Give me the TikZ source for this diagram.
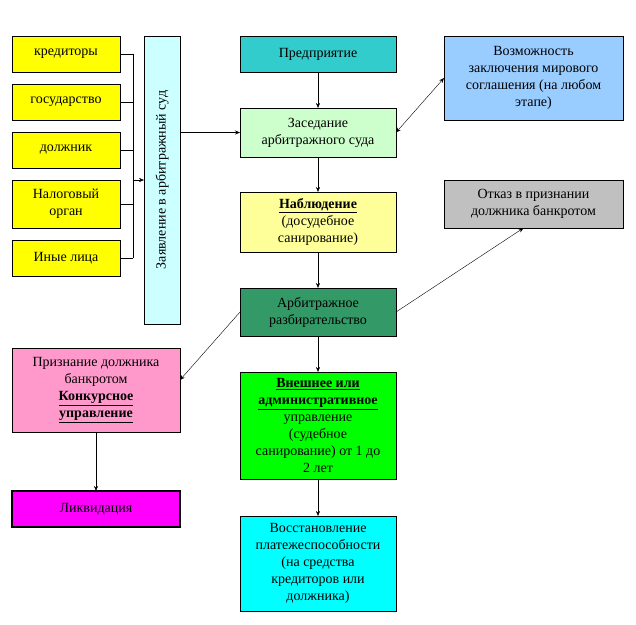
\documentclass[tikz,border=0pt]{standalone}
\usepackage{fontspec}
\setmainfont{Liberation Serif}
\usepackage{tikz}
\usetikzlibrary{arrows.meta}
\usepackage{xcolor}

\definecolor{predcol}{HTML}{33CCCC}
\definecolor{zasedcol}{HTML}{CCFFCC}
\definecolor{nablcol}{HTML}{FFFF99}
\definecolor{arbcol}{HTML}{339966}
\definecolor{vneshcol}{HTML}{00FF00}
\definecolor{vosstcol}{HTML}{00FFFF}
\definecolor{vozmcol}{HTML}{99CCFF}
\definecolor{otkazcol}{HTML}{C0C0C0}
\definecolor{prizcol}{HTML}{FF99CC}
\definecolor{likvcol}{HTML}{FF00FF}
\definecolor{zayavcol}{HTML}{CCFFFF}
\definecolor{sidecol}{HTML}{FFFF00}

\newcommand{\bu}[1]{\underline{\textbf{#1}}}

\begin{document}
\begin{tikzpicture}[x=1pt,y=-1pt,
  box/.style={draw=black,thin,inner sep=0pt,outer sep=0pt,align=center,
    font=\fontsize{14}{17}\selectfont},
  side/.style={box,fill=sidecol,minimum width=108pt},
  conn/.style={thin,-{Stealth[length=5pt,width=4pt]}},
  both/.style={thin,{Stealth[length=5pt,width=4pt]}-{Stealth[length=5pt,width=4pt]}}]

\useasboundingbox (0,0) rectangle (636,624);

\node[side,minimum height=36pt] (kred) at (66,54) {кредиторы};
\node[side,minimum height=36pt] (gos) at (66,102) {государство};
\node[side,minimum height=36pt] (dolzh) at (66,150) {должник};
\node[side,minimum height=48pt] (nalog) at (66,204) {Налоговый\\орган};
\node[side,minimum height=36pt] (inye) at (66,258) {Иные лица};

\node[box,fill=zayavcol,minimum width=36pt,minimum height=288pt] (zayav) at (162,180) {};
\node[font=\fontsize{14}{17}\selectfont,rotate=90] at (zayav.center) {Заявление в арбитражный суд};

\node[box,fill=predcol,minimum width=156pt,minimum height=36pt] (pred) at (318,54) {Предприятие};
\node[box,fill=zasedcol,minimum width=156pt,minimum height=49pt] (zased) at (318,132.5) {Заседание\\арбитражного суда};
\node[box,fill=nablcol,minimum width=156pt,minimum height=60pt] (nabl) at (318,222) {\bu{Наблюдение}\\(досудебное\\санирование)};
\node[box,fill=arbcol,minimum width=156pt,minimum height=48pt] (arb) at (318,312) {Арбитражное\\разбирательство};
\node[box,fill=vneshcol,minimum width=156pt,minimum height=107pt] (vnesh) at (318,425.5) {\bu{Внешнее или}\\\bu{административное}\\управление\\(судебное\\санирование) от 1 до\\2 лет};
\node[box,fill=vosstcol,minimum width=156pt,minimum height=95pt] (vosst) at (318,563.5) {Восстановление\\платежеспособности\\(на средства\\кредиторов или\\должника)};

\node[box,fill=vozmcol,minimum width=179pt,minimum height=84pt] (vozm) at (533.5,78) {Возможность\\заключения мирового\\соглашения (на любом\\этапе)};
\node[box,fill=otkazcol,minimum width=179pt,minimum height=48pt] (otkaz) at (533.5,204) {Отказ в признании\\должника банкротом};

\node[box,fill=prizcol,minimum width=168pt,minimum height=84pt] (priz) at (96,390) {Признание должника\\банкротом\\\bu{Конкурсное}\\\bu{управление}};
\node[box,fill=likvcol,line width=1.2pt,minimum width=168pt,minimum height=36pt] (likv) at (96,509) {Ликвидация};

\coordinate (bus) at (133,180);
\foreach \n in {kred,gos,dolzh,nalog,inye}
  \draw[thin] (\n.east) -- (\n.east -| bus);
\draw[thin] (kred.east -| bus) -- (inye.east -| bus);
\draw[conn] (bus) -- (zayav.west);
\draw[conn] (zayav.east |- zased.west) -- (zased.west);

\draw[conn] (pred) -- (zased);
\draw[conn] (zased) -- (nabl);
\draw[conn] (nabl) -- (arb);
\draw[conn] (arb) -- (vnesh);
\draw[conn] (vnesh) -- (vosst);
\draw[both] (zased.east) -- (vozm.west);
\draw[conn] (arb.east) -- ([xshift=-10pt]otkaz.south);
\draw[conn] (arb.west) -- ([yshift=10pt]priz.east);
\draw[conn] (priz) -- (likv);

\end{tikzpicture}
\end{document}
